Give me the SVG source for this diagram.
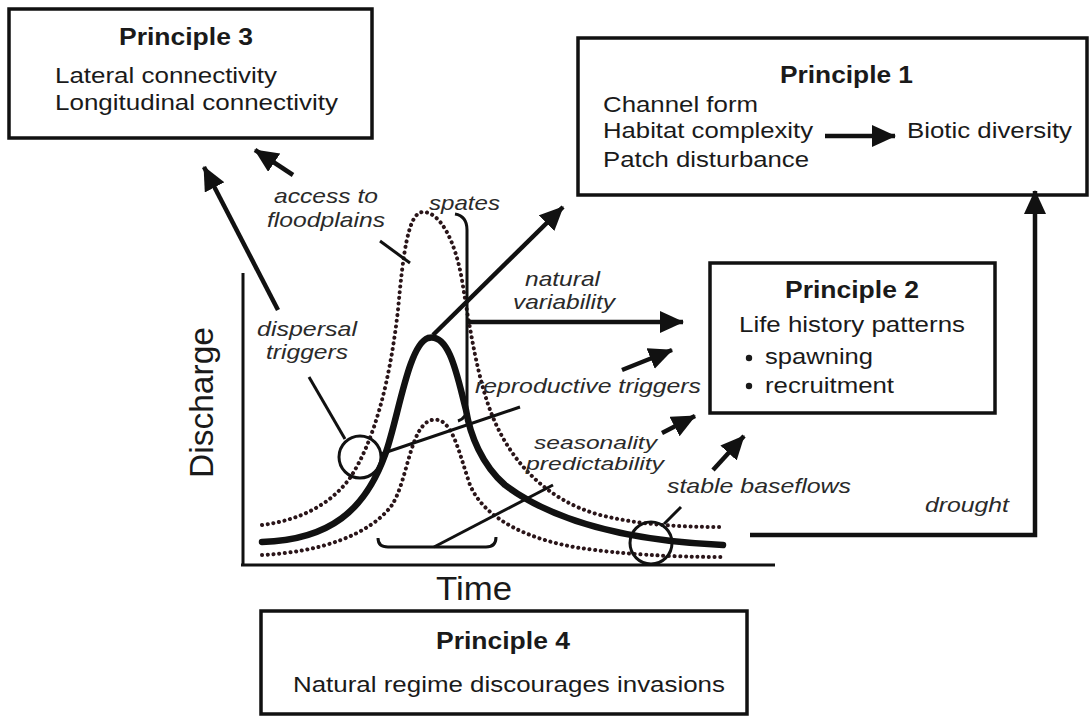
<svg xmlns="http://www.w3.org/2000/svg" width="1092" height="716" viewBox="0 0 1092 716">
<style>
.box{fill:#fff;stroke:#111;stroke-width:3.5}
.hd{font-family:"Liberation Sans",Arial,sans-serif;font-weight:bold;font-size:23px;fill:#1a1a1a}
.tx{font-family:"Liberation Sans",Arial,sans-serif;font-size:22px;fill:#1a1a1a}
.it{font-family:"Liberation Sans",Arial,sans-serif;font-style:italic;font-size:21px;fill:#2a2a2a}
.it2{font-family:"Liberation Sans",Arial,sans-serif;font-style:italic;font-size:19px;fill:#2a2a2a}
.ax{font-family:"Liberation Sans",Arial,sans-serif;font-size:33px;fill:#1a1a1a}
.arr{fill:none;stroke:#111;stroke-width:4.5;marker-end:url(#ah)}
.ln{fill:none;stroke:#111;stroke-width:3}
.thick{fill:none;stroke:#111;stroke-width:6.5;stroke-linecap:round}
.dot{fill:none;stroke:#2a1519;stroke-width:4;stroke-linecap:round;stroke-dasharray:0.1 5.6}
</style>
<defs>
<marker id="ah" markerUnits="userSpaceOnUse" markerWidth="26" markerHeight="24" refX="23" refY="11" orient="auto">
<path d="M0,0 L24,11 L0,22 z" fill="#111"/>
</marker>
</defs>
<rect width="1092" height="716" fill="#fff"/>

<g id="principle3">
<rect class="box" x="9" y="9" width="363" height="129"/>
<text class="hd" x="119" y="45" textLength="134" lengthAdjust="spacingAndGlyphs">Principle 3</text>
<text class="tx" x="55" y="83" textLength="222" lengthAdjust="spacingAndGlyphs">Lateral connectivity</text>
<text class="tx" x="55" y="110" textLength="283" lengthAdjust="spacingAndGlyphs">Longitudinal connectivity</text>
</g>

<g id="principle1">
<rect class="box" x="578" y="38" width="509" height="157"/>
<text class="hd" x="780" y="83" textLength="133" lengthAdjust="spacingAndGlyphs">Principle 1</text>
<text class="tx" x="603" y="112" textLength="155" lengthAdjust="spacingAndGlyphs">Channel form</text>
<text class="tx" x="603" y="138" textLength="210" lengthAdjust="spacingAndGlyphs">Habitat complexity</text>
<text class="tx" x="603" y="167" textLength="206" lengthAdjust="spacingAndGlyphs">Patch disturbance</text>
<text class="tx" x="907" y="138" textLength="165" lengthAdjust="spacingAndGlyphs">Biotic diversity</text>
<line class="arr" x1="825" y1="136" x2="895" y2="136"/>
</g>

<g id="principle2">
<rect class="box" x="710" y="263" width="285" height="150"/>
<text class="hd" x="785" y="298" textLength="134" lengthAdjust="spacingAndGlyphs">Principle 2</text>
<text class="tx" x="739" y="332" textLength="226" lengthAdjust="spacingAndGlyphs">Life history patterns</text>
<circle cx="749" cy="358" r="3.2" fill="#1a1a1a"/>
<text class="tx" x="765" y="364" textLength="108" lengthAdjust="spacingAndGlyphs">spawning</text>
<circle cx="749" cy="386" r="3.2" fill="#1a1a1a"/>
<text class="tx" x="765" y="393" textLength="129" lengthAdjust="spacingAndGlyphs">recruitment</text>
</g>

<g id="principle4">
<rect class="box" x="261" y="611" width="486" height="103"/>
<text class="hd" x="436" y="649" textLength="134" lengthAdjust="spacingAndGlyphs">Principle 4</text>
<text class="tx" x="293" y="692" textLength="432" lengthAdjust="spacingAndGlyphs">Natural regime discourages invasions</text>
</g>

<g id="hydrograph">
<line class="ln" x1="243" y1="273" x2="243" y2="565" stroke-width="3.5"/>
<line class="ln" x1="241" y1="565" x2="775" y2="565" stroke-width="3.5"/>
<text class="ax" transform="translate(213,478) rotate(-90)" textLength="151" lengthAdjust="spacingAndGlyphs">Discharge</text>
<text class="ax" x="436" y="600" textLength="76" lengthAdjust="spacingAndGlyphs">Time</text>
<path class="dot" d="M262,525 C300,520 330,505 350,478 C375,440 390,380 398,310 C403,255 408,212 423,212 C440,212 455,240 462,280 C470,330 478,380 492,415 C510,460 545,500 600,515 C640,525 680,527 723,527"/>
<path class="dot" d="M262,555 C320,552 370,535 392,505 C408,480 410,425 432,420 C452,416 458,450 470,485 C485,520 530,540 580,548 C620,554 670,557 723,557"/>
<path class="thick" d="M262,542 C330,540 365,510 385,455 C398,420 408,345 428,338 C450,332 458,380 466,410 C470,435 482,465 505,485 C545,515 610,540 723,545"/>
<path class="ln" d="M455,214 Q467,216 467,230 L467,408 Q467,418 458,421"/>
<path class="ln" d="M378,538 Q378,547 388,547 L486,547 Q496,547 496,537"/>
<circle class="ln" cx="360" cy="457" r="21"/>
<circle class="ln" cx="651" cy="543" r="21"/>
</g>

<g id="labels">
<text class="it" x="274" y="203" textLength="104" lengthAdjust="spacingAndGlyphs">access to</text>
<text class="it" x="267" y="227" textLength="118" lengthAdjust="spacingAndGlyphs">floodplains</text>
<text class="it" x="429" y="210" textLength="71" lengthAdjust="spacingAndGlyphs">spates</text>
<text class="it" x="525" y="286" textLength="75" lengthAdjust="spacingAndGlyphs">natural</text>
<text class="it" x="513" y="309" textLength="102" lengthAdjust="spacingAndGlyphs">variability</text>
<text class="it" x="257" y="336" textLength="100" lengthAdjust="spacingAndGlyphs">dispersal</text>
<text class="it" x="266" y="359" textLength="82" lengthAdjust="spacingAndGlyphs">triggers</text>
<text class="it" x="475" y="393" textLength="226" lengthAdjust="spacingAndGlyphs">reproductive triggers</text>
<text class="it2" x="534" y="449" textLength="123" lengthAdjust="spacingAndGlyphs">seasonality</text>
<text class="it2" x="526" y="470" textLength="138" lengthAdjust="spacingAndGlyphs">predictability</text>
<text class="it" x="667" y="493" textLength="184" lengthAdjust="spacingAndGlyphs">stable baseflows</text>
<text class="it" x="925" y="512" textLength="84" lengthAdjust="spacingAndGlyphs">drought</text>
</g>

<g id="connectors">
<line class="ln" x1="380" y1="241" x2="410" y2="263"/>
<line class="ln" x1="309" y1="377" x2="345" y2="439"/>
<line class="ln" x1="381" y1="454" x2="520" y2="407"/>
<line class="ln" x1="434" y1="547" x2="553" y2="485"/>
<line class="ln" x1="664" y1="524" x2="681" y2="507"/>
<line class="arr" x1="293" y1="175" x2="255" y2="150"/>
<line class="arr" x1="278" y1="310" x2="204" y2="167"/>
<line class="arr" x1="433" y1="335" x2="563" y2="207"/>
<line class="arr" x1="468" y1="322" x2="683" y2="322"/>
<line class="arr" x1="622" y1="370" x2="672" y2="350"/>
<line class="arr" x1="662" y1="433" x2="695" y2="416"/>
<line class="arr" x1="713" y1="470" x2="744" y2="436"/>
<path class="arr" d="M750,535 L1035,535 L1035,191"/>
</g>
</svg>
